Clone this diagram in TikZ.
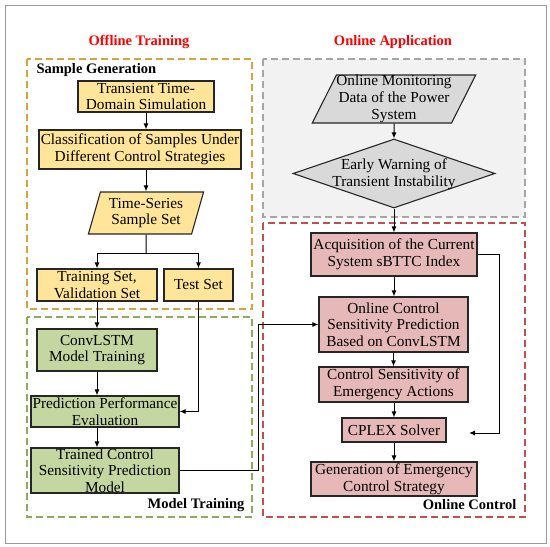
\documentclass[tikz,border=0pt]{standalone}
\usepackage{fontspec}
\setmainfont{Liberation Serif}
\usepackage{xcolor}
\usetikzlibrary{arrows.meta, shapes.geometric, positioning}

\definecolor{ylwfill}{RGB}{255,229,153}
\definecolor{ylwline}{RGB}{214,164,60}
\definecolor{grnfill}{RGB}{196,215,160}
\definecolor{grnline}{RGB}{143,170,90}
\definecolor{pnkfill}{RGB}{230,184,183}
\definecolor{redline}{RGB}{192,80,77}
\definecolor{grynode}{RGB}{217,217,217}
\definecolor{grybg}{RGB}{242,242,242}
\definecolor{gryline}{RGB}{166,166,166}

\begin{document}
\begin{tikzpicture}[x=1pt, y=-1pt, font=\fontsize{15.3}{16.7}\selectfont,
    box/.style={draw=black!85, line width=1.1pt, align=center, inner sep=0pt},
    ybox/.style={box, fill=ylwfill},
    gbox/.style={box, fill=grnfill},
    pbox/.style={box, fill=pnkfill},
    para/.style={trapezium, trapezium stretches=true},
    arr/.style={-{Latex[length=6pt,width=5pt]}, line width=1pt},
    grpframe/.style={dash pattern=on 7pt off 4pt, line width=1.1pt},
    title/.style={font=\fontsize{14.5}{16.7}\selectfont\bfseries}]

  \useasboundingbox (0,0) rectangle (550,547);
  \draw[gray!80, line width=1pt] (5,5) rectangle (546,543);

  % group frames
  \draw[grpframe, draw=ylwline] (27,59) rectangle (252,309);
  \draw[grpframe, draw=grnline] (27,317) rectangle (252,517);
  \draw[grpframe, draw=gryline, fill=grybg] (263,59) rectangle (525,217);
  \draw[grpframe, draw=redline] (263,223) rectangle (525,517);

  % titles and group labels
  \node[title, text=red] (offtitle) at (139,42) {Offline Training};
  \node[title, text=red] (ontitle) at (393,42) {Online Application};
  \node[title, anchor=west] (samplab) at (33,70) {Sample Generation};
  \node[title, anchor=east] (modlab) at (248,505) {Model Training};
  \node[title, anchor=east] (ctrllab) at (520,505) {Online Control};

  % offline training
  \node[ybox, minimum width=136, minimum height=31] (tts) at (146,96.5) {Transient Time-\\Domain Simulation};
  \node[ybox, minimum width=202, minimum height=39] (cls) at (140,149.5) {Classification of Samples Under\\Different Control Strategies};
  \node[ybox, para, trapezium left angle=72, trapezium right angle=108, minimum width=116, minimum height=42] (tsset) at (146,213) {Time-Series\\Sample Set};
  \coordinate (split) at (146,253);
  \node[ybox, minimum width=120, minimum height=32] (trainset) at (97,285) {Training Set,\\Validation Set};
  \node[ybox, minimum width=69, minimum height=32] (testset) at (198.5,285) {Test Set};
  \node[gbox, minimum width=120, minimum height=42] (convlstm) at (97,350) {ConvLSTM\\Model Training};
  \node[gbox, minimum width=148, minimum height=31] (evalbox) at (105,411.5) {Prediction Performance\\Evaluation};
  \node[gbox, minimum width=148, minimum height=45] (trained) at (105,470.5) {Trained Control\\Sensitivity Prediction\\Model};

  % online application
  \node[box, fill=grynode, para, trapezium left angle=63, trapezium right angle=117, minimum width=154, minimum height=48] (monitor) at (394,99) {Online Monitoring\\Data of the Power\\System};
  \node[box, fill=grynode, diamond, minimum width=202, minimum height=69] (warn) at (394,173.5) {};
  \node[align=center] (warntxt) at (394,174) {Early Warning of\\Transient Instability};
  \node[pbox, minimum width=166, minimum height=43] (acq) at (394,254.5) {Acquisition of the Current\\System sBTTC Index};
  \node[pbox, minimum width=149, minimum height=55] (onsens) at (393.5,324.5) {Online Control\\Sensitivity Prediction\\Based on ConvLSTM};
  \node[pbox, minimum width=149, minimum height=35] (ctrlsens) at (393.5,384.5) {Control Sensitivity of\\Emergency Actions};
  \node[pbox, minimum width=104, minimum height=24] (cplex) at (394,430) {CPLEX Solver};
  \node[pbox, minimum width=166, minimum height=34] (gen) at (394,479) {Generation of Emergency\\Control Strategy};
  \coordinate (loopx) at (499,433);
  \coordinate (cplexin) at (469,433);

  % arrows, offline
  \draw[arr] (tts.south) -- (tts.south |- cls.north);
  \draw[arr] (tsset.north |- cls.south) -- (tsset.north);
  \draw[line width=1pt] (tsset.south) -- (split);
  \draw[arr] (split) -| (trainset.north);
  \draw[arr] (split) -| (testset.north);
  \draw[arr] (trainset.south) -- (convlstm.north);
  \draw[arr] (convlstm.south) -- (convlstm.south |- evalbox.north);
  \draw[arr] (testset.south) |- (evalbox.east);
  \draw[arr] (convlstm.south |- evalbox.south) -- (convlstm.south |- trained.north);
  \draw[arr] (trained.east) -- ([xshift=79pt]trained.east) |- (onsens.west);

  % arrows, online
  \draw[arr] (monitor.south) -- (warn.north);
  \draw[arr] (warn.south) -- (acq.north);
  \draw[arr] (acq.south) -- (acq.south |- onsens.north);
  \draw[arr] (onsens.south) -- (ctrlsens.north);
  \draw[arr] (ctrlsens.south -| cplex.north) -- (cplex.north);
  \draw[arr] (cplex.south) -- (gen.north);
  \draw[arr] (acq.east) -| (loopx) -- (cplexin);
\end{tikzpicture}
\end{document}
